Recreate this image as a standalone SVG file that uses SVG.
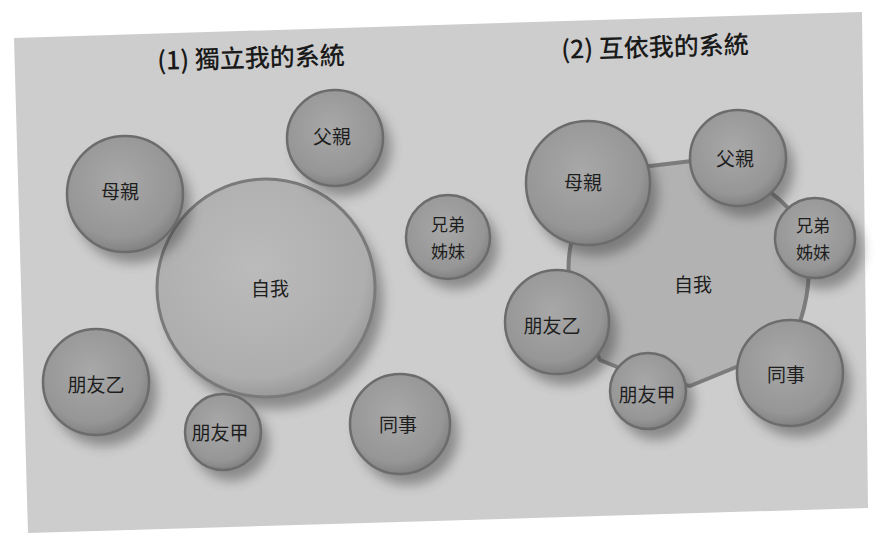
<svg xmlns="http://www.w3.org/2000/svg" width="879" height="535" viewBox="0 0 879 535">
<defs>
<style>
.lbl{font-family:"Noto Sans CJK TC","Noto Sans CJK SC",sans-serif;font-size:19px;fill:#1e1e1e;text-anchor:middle;dominant-baseline:central}
.sm{font-size:17px}
.ttl{font-family:"Noto Sans CJK TC","Noto Sans CJK SC",sans-serif;font-size:25px;font-weight:500;fill:#1a1a1a;text-anchor:middle}
.node{fill:url(#g1);stroke:#6c6c6c;stroke-width:2.5}
.big{fill:url(#g2);stroke:#7a7a7a;stroke-width:3}
.sh{fill:#3a3a3a;opacity:0.45;filter:url(#blur)}
</style>
<radialGradient id="g1" cx="0.45" cy="0.4" r="0.6">
<stop offset="0" stop-color="#a8a8a8"/><stop offset="0.8" stop-color="#969696"/><stop offset="1" stop-color="#828282"/>
</radialGradient>
<radialGradient id="g2" cx="0.45" cy="0.4" r="0.6">
<stop offset="0" stop-color="#bbbbbb"/><stop offset="0.85" stop-color="#aeaeae"/><stop offset="1" stop-color="#9a9a9a"/>
</radialGradient>
<filter id="blur" x="-30%" y="-30%" width="160%" height="160%"><feGaussianBlur stdDeviation="6"/></filter>
<filter id="noise"><feTurbulence type="fractalNoise" baseFrequency="0.9" numOctaves="2" result="n"/><feColorMatrix type="matrix" values="0 0 0 0 0.5  0 0 0 0 0.5  0 0 0 0 0.5  0 0 0 0.12 0" in="n" result="c"/><feComposite in="c" in2="SourceGraphic" operator="in"/></filter>
</defs>
<rect width="879" height="535" fill="#ffffff"/>
<g id="panel">
<polygon points="14,38 862,12 868,508 28,533" fill="#cecece"/>
<polygon points="14,38 862,12 868,508 28,533" fill="#cecece" filter="url(#noise)"/>
</g>
<text class="ttl" x="251" y="67" transform="rotate(-1.7 251 58)">(1) 獨立我的系統</text>
<text class="ttl" x="655" y="56" transform="rotate(-1.7 655 48)">(2) 互依我的系統</text>
<g id="connectors">
<path d="M600,172 L700,160 Q800,190 808,250 Q813,300 790,345 L690,386 Q640,378 600,360 L572,300 Q560,240 590,205 Z" fill="#b2b2b2" stroke="#7c7c7c" stroke-width="4" stroke-linejoin="round"/>
</g>
<g id="self-1"><circle class="sh" cx="274" cy="300" r="109"/><circle class="big" cx="266" cy="288" r="109"/><text class="lbl" x="270" y="287">自我</text></g>
<g id="mother-1"><circle class="sh" cx="133" cy="205" r="58"/><circle class="node" cx="125" cy="194" r="58"/><text class="lbl" x="120" y="190">母親</text></g>
<g id="father-1"><circle class="sh" cx="343" cy="148" r="48"/><circle class="node" cx="335" cy="138" r="48"/><text class="lbl" x="332" y="135">父親</text></g>
<g id="siblings-1"><circle class="sh" cx="456" cy="247" r="42"/><circle class="node" cx="448" cy="237" r="42"/><text class="lbl sm" x="448" y="223">兄弟</text><text class="lbl sm" x="448" y="250">姊妹</text></g>
<g id="friendB-1"><circle class="sh" cx="104" cy="393" r="53"/><circle class="node" cx="96" cy="382" r="53"/><text class="lbl" x="96" y="383">朋友乙</text></g>
<g id="friendA-1"><circle class="sh" cx="231" cy="443" r="38"/><circle class="node" cx="223" cy="432" r="38"/><text class="lbl" x="220" y="431">朋友甲</text></g>
<g id="colleague-1"><circle class="sh" cx="408" cy="435" r="50"/><circle class="node" cx="400" cy="424" r="50"/><text class="lbl" x="398" y="423">同事</text></g>
<text class="lbl" x="693" y="283">自我</text>
<g id="mother-2"><circle class="sh" cx="596" cy="194" r="62"/><circle class="node" cx="588" cy="183" r="62"/><text class="lbl" x="583" y="181">母親</text></g>
<g id="father-2"><circle class="sh" cx="746" cy="169" r="48"/><circle class="node" cx="738" cy="158" r="48"/><text class="lbl" x="735" y="157">父親</text></g>
<g id="siblings-2"><circle class="sh" cx="823" cy="249" r="40"/><circle class="node" cx="815" cy="238" r="40"/><text class="lbl sm" x="813" y="224">兄弟</text><text class="lbl sm" x="813" y="251">姊妹</text></g>
<g id="friendB-2"><circle class="sh" cx="565" cy="333" r="52"/><circle class="node" cx="557" cy="322" r="52"/><text class="lbl" x="552" y="324">朋友乙</text></g>
<g id="friendA-2"><circle class="sh" cx="656" cy="402" r="38"/><circle class="node" cx="648" cy="391" r="38"/><text class="lbl" x="647" y="393">朋友甲</text></g>
<g id="colleague-2"><circle class="sh" cx="798" cy="384" r="53"/><circle class="node" cx="790" cy="373" r="53"/><text class="lbl" x="786" y="373">同事</text></g>
</svg>
